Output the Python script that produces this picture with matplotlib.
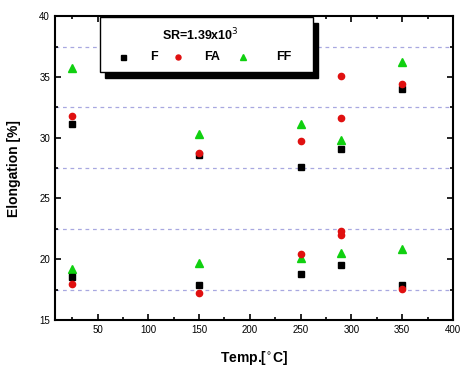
import matplotlib
matplotlib.use("Agg")
import matplotlib.pyplot as plt
from matplotlib.patches import Rectangle
from matplotlib.ticker import MultipleLocator

plt.rcParams['font.family'] = ['Liberation Sans', 'DejaVu Sans']

# Data
f_x = [25, 25, 150, 150, 250, 250, 290, 290, 350, 350]
f_y = [31.1, 18.55, 28.6, 17.9, 27.6, 18.75, 29.1, 19.5, 34.0, 17.9]
fa_x = [25, 25, 150, 150, 250, 250, 290, 290, 290, 290, 350, 350]
fa_y = [31.75, 18.0, 28.7, 17.2, 29.75, 20.4, 35.1, 31.6, 22.3, 22.0, 34.4, 17.55]
ff_x = [25, 25, 150, 150, 250, 250, 290, 290, 350, 350]
ff_y = [35.7, 19.2, 30.3, 19.7, 31.1, 20.1, 29.8, 20.55, 36.2, 20.8]
ref_lines = [37.5, 32.5, 27.5, 22.5, 17.5]
legend_title = "SR=1.39x10$^{3}$"

fig = plt.figure(figsize=(4.65, 3.76), dpi=100)
ax = fig.add_axes([0.118, 0.149, 0.856, 0.808])

for yv in ref_lines:
    ax.axhline(yv, color='#a8a8e0', linestyle=(0, (3, 3)), linewidth=0.9, zorder=1)

hF, = ax.plot(f_x, f_y, 's', color='black', markersize=4.5, linestyle='none', zorder=3)
hFA, = ax.plot(fa_x, fa_y, 'o', color='#e01010', markersize=4.5, linestyle='none', zorder=3)
hFF, = ax.plot(ff_x, ff_y, '^', color='#10d010', markersize=5.5, linestyle='none', zorder=2)

ax.set_xlim(8, 400)
ax.set_ylim(15, 40)
ax.xaxis.set_major_locator(MultipleLocator(50))
ax.xaxis.set_minor_locator(MultipleLocator(25))
ax.yaxis.set_major_locator(MultipleLocator(5))
ax.yaxis.set_minor_locator(MultipleLocator(2.5))
ax.tick_params(which='both', direction='in', top=True, right=True, labelsize=7, width=1.2)
ax.tick_params(which='major', length=4)
ax.tick_params(which='minor', length=2.5)
for s in ax.spines.values():
    s.set_linewidth(1.5)

ax.set_xlabel("Temp.[$^{\\circ}$C]", fontsize=10, fontweight='bold', labelpad=10)
ax.set_ylabel("Elongation [%]", fontsize=10, fontweight='bold', labelpad=13)

# legend box with shadow
bx0, by0, bw, bh = 0.113, 0.816, 0.535, 0.181
ax.add_patch(Rectangle((bx0 + 0.012, by0 - 0.018), bw, bh, transform=ax.transAxes,
                       facecolor='black', edgecolor='black', zorder=5, clip_on=False))
ax.add_patch(Rectangle((bx0, by0), bw, bh, transform=ax.transAxes,
                       facecolor='white', edgecolor='black', linewidth=1.0, zorder=6, clip_on=False))
ax.text(bx0 + bw * 0.47, by0 + bh * 0.68, legend_title, transform=ax.transAxes,
        ha='center', va='center', fontsize=9, fontweight='bold', zorder=7)
row_y = by0 + bh * 0.27
items = [(hF, "F", 0.170, 0.24), (hFA, "FA", 0.310, 0.375), (hFF, "FF", 0.473, 0.555)]
for h, lab, mx, tx in items:
    ax.plot([mx], [row_y], marker=h.get_marker(), color=h.get_color(),
            markersize=h.get_markersize() * 0.8, transform=ax.transAxes, zorder=7, clip_on=False)
    ax.text(tx, row_y, lab, transform=ax.transAxes, ha='left', va='center',
            fontsize=9, fontweight='bold', zorder=7)

fig.savefig("out.png", dpi=100)
